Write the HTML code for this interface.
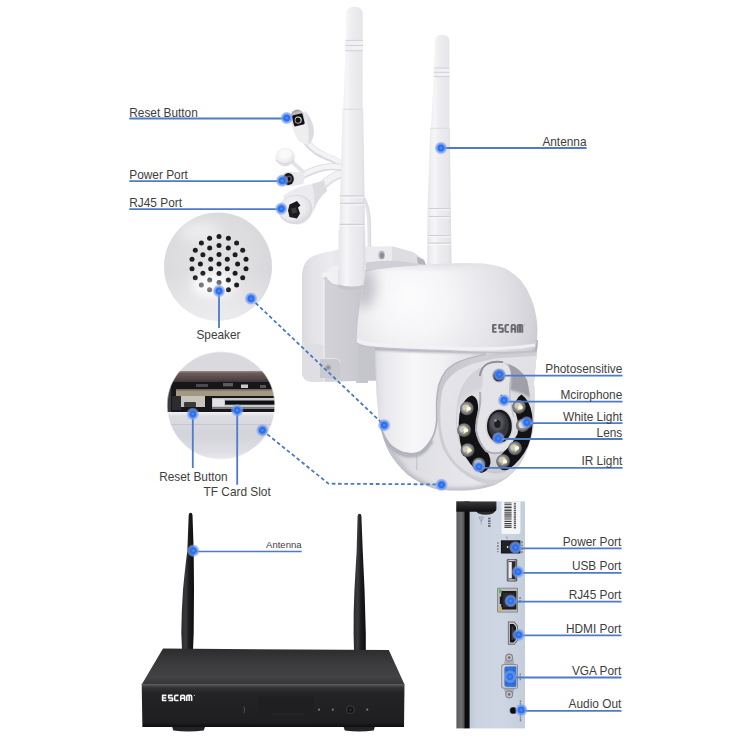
<!DOCTYPE html>
<html><head><meta charset="utf-8">
<style>
html,body{margin:0;padding:0;background:#fff;}
body{width:750px;height:750px;overflow:hidden;font-family:"Liberation Sans",sans-serif;}
svg{display:block;position:absolute;left:0;top:0;}
text{font-family:"Liberation Sans",sans-serif;fill:#3e3e3e;}
.ln{stroke:#4f7ac8;stroke-width:1.8;fill:none;}
.dash{stroke:#4c78c4;stroke-width:1.8;fill:none;stroke-dasharray:3.7 2.6;}
</style></head><body>
<svg width="750" height="750" viewBox="0 0 750 750">
<defs>
<radialGradient id="gdot" cx="50%" cy="50%" r="50%">
<stop offset="0" stop-color="#4f9dff"/><stop offset="0.25" stop-color="#2c74f4"/><stop offset="0.46" stop-color="#2d6de8"/><stop offset="0.56" stop-color="#5f8dec" stop-opacity="0.9"/><stop offset="0.82" stop-color="#7da2ee" stop-opacity="0.62"/><stop offset="1" stop-color="#9fbaf2" stop-opacity="0"/>
</radialGradient>
<g id="dot"><circle r="6.6" fill="url(#gdot)"/></g>
<filter id="b1" x="-20%" y="-20%" width="140%" height="140%"><feGaussianBlur stdDeviation="1"/></filter>
<filter id="b2" x="-20%" y="-20%" width="140%" height="140%"><feGaussianBlur stdDeviation="2"/></filter>
<filter id="b3" x="-30%" y="-30%" width="160%" height="160%"><feGaussianBlur stdDeviation="3.5"/></filter>
<filter id="b6" x="-40%" y="-40%" width="180%" height="180%"><feGaussianBlur stdDeviation="6"/></filter>
<filter id="bh" x="-20%" y="-20%" width="140%" height="140%"><feGaussianBlur stdDeviation="0.5"/></filter>
</defs>
<rect width="750" height="750" fill="#fff"/>

<!--CAMERA-->
<!--CABLES-->
<g id="cables">
<defs>
<linearGradient id="gcab" x1="0" x2="0" y1="0" y2="1"><stop offset="0" stop-color="#f4f4f6"/><stop offset="1" stop-color="#e0e0e5"/></linearGradient>
<radialGradient id="gcap" cx="0.4" cy="0.35" r="0.7"><stop offset="0" stop-color="#fbfbfc"/><stop offset="0.6" stop-color="#efeff2"/><stop offset="1" stop-color="#dcdce2"/></radialGradient>
<radialGradient id="grjf" cx="0.45" cy="0.4" r="0.65"><stop offset="0" stop-color="#f6f6f8"/><stop offset="0.7" stop-color="#e9e9ed"/><stop offset="1" stop-color="#d6d6dc"/></radialGradient>
</defs>
<!-- thin wire behind antenna going down -->
<path d="M362 196 Q369 205 369 225 L369.5 262" stroke="#e3e3e8" stroke-width="3.4" fill="none"/>
<path d="M371 262 L370.5 225 Q370 205 363.5 196" stroke="#d2d2d8" stroke-width="0.8" fill="none"/>
<!-- reset cable -->
<path d="M305 139 Q310 149 323 155 Q334 159 344 166" stroke="#d9d9df" stroke-width="7" fill="none" stroke-linecap="round"/>
<path d="M305 138.5 Q310 148 323 154 Q334 158 344 165" stroke="#f3f3f6" stroke-width="4.6" fill="none" stroke-linecap="round"/>
<!-- rj45 cable+body -->
<path d="M322 186 Q332 176 344 173" stroke="#dedee3" stroke-width="9" fill="none" stroke-linecap="round"/>
<path d="M322 185 Q332 175.5 344 172.5" stroke="#f2f2f5" stroke-width="6.4" fill="none" stroke-linecap="round"/>
<!-- power cable -->
<path d="M300 177 Q312 170 324 167.5 Q334 166 344 168" stroke="#d9d9df" stroke-width="7" fill="none" stroke-linecap="round"/>
<path d="M300 176.5 Q312 169.5 324 167 Q334 165.5 344 167.5" stroke="#f4f4f6" stroke-width="4.8" fill="none" stroke-linecap="round"/>
<!-- reset connector body -->
<path d="M290.5 121 L305 111 Q313 120 314 131 Q313.5 141 308 145 L299 141.5 Q293.5 133 290.5 121Z" fill="#eeeef1"/>
<path d="M305 111 Q313 120 314 131 Q313.5 141 308 145 Q310.5 132 305 111Z" fill="#dcdce1"/>
<defs><linearGradient id="grst" x1="0" x2="0" y1="0" y2="1"><stop offset="0" stop-color="#9c9ca0"/><stop offset="0.35" stop-color="#d6d6d9"/><stop offset="1" stop-color="#f2f2f4"/></linearGradient></defs>
<ellipse cx="298" cy="118.7" rx="7.7" ry="9.2" transform="rotate(-18 298 118.7)" fill="url(#grst)"/>
<rect x="292.8" y="114.2" width="11" height="11.4" rx="1.6" transform="rotate(-14 298.3 119.9)" fill="#141416"/>
<circle cx="298.2" cy="120" r="3.5" fill="#e8e8ea"/>
<circle cx="298" cy="120.2" r="2.6" fill="#121214"/>
<!-- dust cap -->
<path d="M291 161 Q297 166 303 172" stroke="#e4e4e8" stroke-width="4" fill="none" stroke-linecap="round"/>
<ellipse cx="285" cy="157" rx="9.8" ry="9.2" fill="url(#gcap)"/>
<ellipse cx="285.5" cy="154" rx="6.4" ry="4.6" fill="#f9f9fa"/>
<path d="M276 160 Q285 168 294 160" stroke="#dadadf" stroke-width="1.4" fill="none" filter="url(#bh)"/>
<!-- power connector -->
<path d="M290 171.5 L303 172.5 Q306 177 303 184 L291 186.5Z" fill="#e9e9ed"/>
<ellipse cx="288" cy="179" rx="6.6" ry="7.2" fill="#dcdce0"/>
<ellipse cx="288.4" cy="179" rx="5.4" ry="6" fill="#151517"/>
<ellipse cx="289" cy="179" rx="3" ry="3.4" fill="#55555a"/>
<ellipse cx="289" cy="179" rx="1.6" ry="1.9" fill="#0c0c0e"/>
<!-- rj45 connector -->
<path d="M283 196 Q296 186 312 184 L324 180.5 L327 191 Q318 198 313 212 Q308 224 297 225Z" fill="#ececf0"/>
<path d="M312 184 L324 180.5 L327 191 Q318 198 313 212 Q316 196 312 184Z" fill="#dcdce1"/>
<ellipse cx="295.5" cy="209.5" rx="17" ry="14.6" transform="rotate(-12 295.5 209.5)" fill="#d9d9de"/>
<ellipse cx="295" cy="209" rx="15.6" ry="13.2" transform="rotate(-12 295 209)" fill="url(#grjf)"/>
<path d="M289.5 204.5 L297 201 L300.5 205.5 L298 207.5 L300 213.5 L297 218.5 L289.5 217 L288 210.5Z" fill="#1a1a1c"/>
<path d="M291 208.5 L296 207.5 L297 212.5 L292 213.5Z" fill="#3a3a3e"/>
</g>

<!--CAMERA-->
<g id="camera">
<defs>
<linearGradient id="gant" x1="0" x2="1" y1="0" y2="0">
<stop offset="0" stop-color="#e4e4e9"/><stop offset="0.18" stop-color="#f0f0f3"/><stop offset="0.3" stop-color="#f6f6f8"/><stop offset="0.5" stop-color="#ededf0"/><stop offset="0.85" stop-color="#e7e7eb"/><stop offset="1" stop-color="#dadae0"/>
</linearGradient>
<linearGradient id="gplate" x1="0" x2="1" y1="0" y2="0">
<stop offset="0" stop-color="#e9e9ed"/><stop offset="0.25" stop-color="#eeeef1"/><stop offset="0.3" stop-color="#dcdce1"/><stop offset="0.7" stop-color="#d6d6dc"/><stop offset="1" stop-color="#c4c4cb"/>
</linearGradient>
<radialGradient id="gdome" gradientUnits="userSpaceOnUse" cx="425" cy="308" r="122" fx="408" fy="296">
<stop offset="0" stop-color="#fcfcfd"/><stop offset="0.3" stop-color="#f5f5f7"/><stop offset="0.52" stop-color="#eaeaee"/><stop offset="0.72" stop-color="#e0e0e5"/><stop offset="0.9" stop-color="#d3d3d9"/><stop offset="1" stop-color="#c6c6cd"/>
</radialGradient>
<linearGradient id="gball" x1="0" x2="1" y1="0" y2="0.3">
<stop offset="0" stop-color="#e6e6ea"/><stop offset="0.2" stop-color="#f4f4f7"/><stop offset="0.55" stop-color="#ececf0"/><stop offset="1" stop-color="#cfcfd6"/>
</linearGradient>
<linearGradient id="gyoke" x1="0" x2="1" y1="0" y2="0">
<stop offset="0" stop-color="#e4e4e9"/><stop offset="0.25" stop-color="#f5f5f8"/><stop offset="0.7" stop-color="#f1f1f4"/><stop offset="1" stop-color="#dcdce2"/>
</linearGradient>
<radialGradient id="gface" cx="0.45" cy="0.45" r="0.6">
<stop offset="0" stop-color="#ebebee"/><stop offset="0.7" stop-color="#dedee3"/><stop offset="1" stop-color="#cdcdd4"/>
</radialGradient>
<radialGradient id="glens" cx="0.4" cy="0.4" r="0.6">
<stop offset="0" stop-color="#6a6a70"/><stop offset="0.35" stop-color="#2c2c30"/><stop offset="0.7" stop-color="#141416"/><stop offset="1" stop-color="#050506"/>
</radialGradient>
<radialGradient id="gled" cx="0.5" cy="0.5" r="0.5">
<stop offset="0" stop-color="#fff6b0"/><stop offset="0.3" stop-color="#e8d878"/><stop offset="0.55" stop-color="#a8a8a4"/><stop offset="0.85" stop-color="#6c6c70"/><stop offset="1" stop-color="#2a2a2c"/>
</radialGradient>
<radialGradient id="gledw" cx="0.5" cy="0.5" r="0.5">
<stop offset="0" stop-color="#ffffff"/><stop offset="0.3" stop-color="#e4e4e0"/><stop offset="0.55" stop-color="#a4a4a6"/><stop offset="0.85" stop-color="#68686c"/><stop offset="1" stop-color="#2a2a2c"/>
</radialGradient>
</defs>

<!-- left antenna (behind plate bottom) -->
<g id="antL">
<path d="M346 14 Q346 6.7 354.3 6.7 Q362.7 6.7 362.7 14 L362.6 109 L363.2 109.5 L364.6 200 L365.4 284 Q352 288 338.6 284 L340 200 L342.6 109.5 L343.2 109 L345.6 50 Z" fill="url(#gant)"/>
<rect x="345.1" y="40.6" width="18.1" height="4.6" rx="1.6" fill="#f1f1f4"/><rect x="345" y="45.8" width="18.2" height="4.6" rx="1.6" fill="#f1f1f4"/><path d="M345.6 40.4H362.8M345.4 45.5H363M345.3 50.7H363" stroke="#d0d0d7" stroke-width="1" fill="none"/>
<path d="M343 109.3H363" stroke="#dcdce2" stroke-width="1" fill="none"/>
<path d="M340.2 196H364.5M340 203.5H364.7M339.6 224.5H365M339.5 231H365.1" stroke="#cfcfd6" stroke-width="1.3" fill="none"/><path d="M340.2 197.2H364.5M340 204.7H364.7M339.6 225.7H365M339.5 232.2H365.1" stroke="#fafafb" stroke-width="0.9" fill="none"/>
</g>

<!-- back plate -->
<g id="plate">
<defs>
<linearGradient id="grim" x1="0" x2="1" y1="0" y2="0"><stop offset="0" stop-color="#d9d9de"/><stop offset="0.25" stop-color="#e3e3e7"/><stop offset="0.8" stop-color="#ececf0"/><stop offset="1" stop-color="#e6e6ea"/></linearGradient>
<linearGradient id="ginner" x1="0" x2="1" y1="0" y2="0"><stop offset="0" stop-color="#d2d2d8"/><stop offset="0.5" stop-color="#cbcbd1"/><stop offset="1" stop-color="#bebec5"/></linearGradient>
</defs>
<!-- arm behind -->
<path d="M360 250 L366.4 246.4 L392 246.2 L412.8 252 L424 260 L426 265 L430 270 L430 300 L360 300 Z" fill="#ebebee"/>
<path d="M392 246.2 L412.8 252 L424 260 L426 265 L392 262Z" fill="#dddde2"/>
<path d="M416.8 256.5 L424 260 L426 265 L418 264.5Z" fill="#b4b4bb"/>
<path d="M366 262.5 Q392 258 426 265 L430 270 L430 290 L366 290 Z" fill="#cfcfd5"/>
<ellipse cx="381.6" cy="255.2" rx="3.3" ry="4.4" fill="#b9b9c0"/>
<ellipse cx="382" cy="255.6" rx="2.1" ry="3" fill="#8d8d95"/>
<!-- inner face -->
<path d="M322 270 L382 270 L382 380.5 L368 380.5 L368 383 L356 383 L356 381 L322 382 Z" fill="url(#ginner)"/>
<!-- shadow under dome on plate -->
<path d="M358 346 L380 346 L380 380.5 L358 380.5Z" fill="#c5c5cc"/>
<!-- outer rim -->
<path d="M302 372 L302 276 Q302.5 259 316 255 Q327 251.5 338.6 249.5 L338.6 266 Q325 267 324 280 L324 382 L312 382 Q302 381 302 372 Z" fill="url(#grim)"/>
<path d="M302 342 L324 345 L324 382 L312 382 Q302 381 302 372 Z" fill="#dedee3"/>
<path d="M324 280 L324 382" stroke="#f3f3f6" stroke-width="1.1"/>
<!-- bottom tab -->
<path d="M320 358.5 L336 358.5 Q340 358.5 340 362.5 L340 378 L320 378 Z" fill="#c9c9d0"/>
<path d="M320 358.5 L336 358.5 Q340 358.5 340 362.5" stroke="#e3e3e8" stroke-width="1" fill="none"/>
<circle cx="328.2" cy="367.5" r="3.1" fill="#b0b0b8"/>
<circle cx="328.2" cy="367.5" r="1.6" fill="#8c8c95"/>
</g>

<!-- left antenna base overlaps plate -->
<g>
<path d="M338.6 230 L365.2 230 L365.6 284.5 Q352 289 338.4 284.5 Z" fill="url(#gant)"/>
<path d="M338.4 284.5 Q352 289 365.6 284.5 L365.6 288 Q352 292 338.4 288Z" fill="#c4c4cb" filter="url(#bh)"/>
<path d="M326.5 271 Q330 265.5 338.4 265.5 L338.4 285.5 Q331 285 327.5 279.5 Q325.5 275 326.5 271Z" fill="#f0f0f3"/><path d="M327.5 279.5 Q331 285 338.4 285.5" stroke="#c6c6cd" stroke-width="1" fill="none" filter="url(#bh)"/>
<path d="M322 272.5 L331 272.5 L331 277 L322 277Z" fill="#f2f2f5"/>
</g>

<!-- right antenna -->
<g id="antR">
<path d="M434.7 41 Q434.7 34.7 442 34.7 Q449.3 34.7 449.3 41 L449.4 128 L449.9 128.5 L450.8 210 L451.6 266 L427 266 L427.6 210 L430.2 128.5 L430.8 128 L433.8 76 Z" fill="url(#gant)"/>
<rect x="433.6" y="68.2" width="16.2" height="3.8" rx="1.4" fill="#f1f1f4"/><rect x="433.5" y="72.6" width="16.3" height="3.8" rx="1.4" fill="#f1f1f4"/><path d="M434 68H449.4M433.9 72.3H449.5M433.8 76.6H449.5" stroke="#d0d0d7" stroke-width="1" fill="none"/>
<path d="M430.4 128.3H449.8" stroke="#dcdce2" stroke-width="1" fill="none"/>
<path d="M428.4 208.6H450.6M428.3 216.6H450.7M428 235.6H451M427.9 243.2H451.1" stroke="#cfcfd6" stroke-width="1.3" fill="none"/><path d="M428.4 209.8H450.6M428.3 217.8H450.7M428 236.8H451M427.9 244.4H451.1" stroke="#fafafb" stroke-width="0.9" fill="none"/>
</g>

<!-- lower ball -->
<g id="ball">
<defs>
<linearGradient id="gball2" x1="0" x2="1" y1="0" y2="0"><stop offset="0" stop-color="#d6d6dc"/><stop offset="0.25" stop-color="#dedee3"/><stop offset="0.6" stop-color="#e8e8ec"/><stop offset="1" stop-color="#dcdce1"/></linearGradient>
<linearGradient id="gyoke2" x1="0" x2="1" y1="0" y2="0"><stop offset="0" stop-color="#d9d9df"/><stop offset="0.1" stop-color="#e9e9ed"/><stop offset="0.35" stop-color="#f7f7f9"/><stop offset="0.6" stop-color="#f1f1f4"/><stop offset="0.85" stop-color="#e2e2e7"/><stop offset="1" stop-color="#cfcfd6"/></linearGradient>
<linearGradient id="gring" x1="0" x2="1" y1="0" y2="0.6"><stop offset="0" stop-color="#c2c2c9"/><stop offset="0.3" stop-color="#cdcdd3"/><stop offset="1" stop-color="#cfcfd6"/></linearGradient>
<linearGradient id="gring2" x1="0" x2="1" y1="0" y2="1"><stop offset="0" stop-color="#e6e6ea"/><stop offset="0.5" stop-color="#e0e0e5"/><stop offset="1" stop-color="#d4d4da"/></linearGradient>
<radialGradient id="gface2" gradientUnits="userSpaceOnUse" cx="484" cy="415" r="58"><stop offset="0" stop-color="#e3e3e7"/><stop offset="0.6" stop-color="#dcdce1"/><stop offset="1" stop-color="#c8c8cf"/></radialGradient>
<clipPath id="cball"><path d="M375 340 L538 340 L534 382 Q535.5 410 533 431 Q528 452 520 464 Q508 480 493 485.5 Q478 490.5 462 490.5 Q446 491 434 488.5 Q420 484 408 475 Q396 464 389 452 Q382 438 378.7 418 Q376 395 375.5 370 Z"/></clipPath>
<clipPath id="crin"><path d="M500 361.5 Q482 365 472 374 Q462 384 458.5 398 Q456 412 456.5 425 Q457.5 438 461 447 Q466 457 472 462.5 Q480 469.5 489 472.5 Q498 474.5 505 472 Q513 467.5 519 459.5 Q525 449 528.5 437 Q531 423 530.5 408 Q530 392 527 380 Q520 366 500 361.5 Z"/></clipPath>
</defs>
<g clip-path="url(#cball)">
<rect x="370" y="338" width="172" height="156" fill="url(#gball2)"/>
<!-- bottom edge shade -->
<path d="M389 452 Q396 464 408 475 Q420 484 434 488.5 Q446 491 462 490.5 Q478 490.5 493 485.5 Q508 480 520 464" stroke="#b4b4bd" stroke-width="5" fill="none" filter="url(#b2)"/>
<path d="M378 420 Q384 448 404 470" stroke="#c4c4cc" stroke-width="6" fill="none" filter="url(#b2)"/>
<path d="M416.8 453 L416.8 470" stroke="#bebec6" stroke-width="1"/>
<!-- yoke shadow -->
<path d="M381 430 Q384 439 389 445.5 Q394.7 451.5 404 455 Q413.3 457 420 454 Q426.5 450 432 440.5" stroke="#aeaeb7" stroke-width="3.5" fill="none" filter="url(#b1)"/>
<!-- yoke -->
<path d="M374 338 L486 338 L486 355 L478 356.4 Q468 358.5 460 361.7 Q452 365 446 371 Q441.5 377 438.9 385 Q437 394 436.7 403 Q436.8 412 436.8 420 Q436 431 432 438 Q426.5 447.5 420 451.5 Q413.3 454.5 404 452.5 Q394.7 449 389 443 Q384 437 381 428 Q378.7 418 377.5 400 L376.5 356Z" fill="url(#gyoke2)"/>
<path d="M381 428 Q384 437 389 443.5 Q394.7 449.5 404 453 Q413.3 455 420 452 Q426.5 448 432 438.5 Q436 431 436.8 420 Q436.8 412 436.7 403 Q437 394 438.9 385 Q441.5 377 446 371 Q452 365 460 361.7 Q468 358.5 478 356.4 L486 355" stroke="#b2b2bb" stroke-width="1.8" fill="none" filter="url(#bh)"/>
<!-- ring outer bevel -->
<path d="M540 349 L486 354.7 L478 356.6 Q468 358.7 460 362 Q452 365.3 446.4 371.2 Q442 377 439.5 385 Q437.6 394 437.3 403 Q437.4 412 438 424 Q438.8 437 442.3 447 Q447 458 456 467 Q466 477 479 482 Q492 486.3 504 483 Q514 478 520.5 468.7 Q528 456 532 442 Q535 425 535 410 L540 382 Z" fill="url(#gring)"/>
<!-- ring inner -->
<path d="M540 355.5 L496 358.5 Q480.5 361.7 472 364 Q464.5 367 458 370.5 Q451.7 374.5 447 380.5 Q443 386 441.6 394 Q440.4 401 440.2 412 Q440 424.7 442.3 436 Q444.6 446 449.5 454.5 Q455 463 463 469.5 Q472 475.5 482 478.5 Q493 481 503 478.5 Q512 474 518 466 Q525 453 529 440 Q532 425 532 410 L540 384 Z" fill="url(#gring2)"/>
<!-- face plate -->
<path d="M500 361.5 Q482 365 472 374 Q462 384 458.5 398 Q456 412 456.5 425 Q457.5 438 461 447 Q466 457 472 462.5 Q480 469.5 489 472.5 Q498 474.5 505 472 Q513 467.5 519 459.5 Q525 449 528.5 437 Q531 423 530.5 408 Q530 392 527 380 Q520 366 500 361.5 Z" fill="url(#gface2)"/>
<g clip-path="url(#crin)">
<path d="M450 355 L492 355 L488 372 Q486 384 483 390 Q470 388 456 408 Z" fill="#d3d3d9" filter="url(#b2)"/>
<path d="M505 355 L540 355 L540 404 Q524 392 510 390 Q513 376 505 355Z" fill="#9f9fa9" filter="url(#b1)"/>
<path d="M470 361 Q500 352 532 372" stroke="#8f8f99" stroke-width="3" fill="none" filter="url(#b1)" opacity="0.7"/>
</g>
<path d="M500 361.5 Q482 365 472 374 Q462 384 458.5 398 Q456 412 456.5 425 Q457.5 438 461 447 Q466 457 472 462.5 Q480 469.5 489 472.5" stroke="#cfcfd5" stroke-width="1" fill="none" filter="url(#bh)"/>
<!-- dome shadow on ball top -->
<path d="M372 338 L542 338 L542 351 Q480 356 372 350Z" fill="#a9a9b2" filter="url(#b1)" opacity="0.9"/>
</g>
</g>

<!-- face -->
<g id="face">
<!-- left crescent -->
<path d="M472 395.5 Q477.5 397 478 405 Q478.5 413 475.5 425.4 Q476 438 484 448 Q491 455 490.5 463 Q489 471 481 473 Q469 466 462 450 Q457 432 459.5 414 Q463 398 472 395.5Z" fill="#121214"/>
<!-- right crescent -->
<path d="M521.5 394.5 Q529.5 400 532 414 Q534 430 528 446 Q521 461 508.3 469.5 Q501 472 498.5 466 Q497.5 458 503 452.5 Q512 445 517.5 434 Q519.5 424 515.5 412 Q514 399 521.5 394.5Z" fill="#121214"/>
<!-- leds -->
<defs>
<radialGradient id="gledd" cx="0.45" cy="0.45" r="0.55"><stop offset="0" stop-color="#b4b4b4"/><stop offset="0.55" stop-color="#8e8e92"/><stop offset="0.85" stop-color="#626267"/><stop offset="1" stop-color="#2e2e32"/></radialGradient>
<g id="ledL"><circle r="7" fill="url(#gledd)"/><ellipse cx="-1.2" cy="-1" rx="3.6" ry="3.2" fill="#cfcfcd" opacity="0.8"/><path d="M-1.2 -3.8 Q7.4 0 -1.2 3.8 Q1.4 0 -1.2 -3.8Z" fill="#ffe566"/><ellipse cx="1.7" cy="0" rx="2.3" ry="1.9" fill="#fffbe0"/></g>
<g id="ledW"><circle r="6.8" fill="url(#gledd)"/><ellipse cx="-0.6" cy="-0.8" rx="3.6" ry="3.4" fill="#e6e6e6" opacity="0.9"/><ellipse cx="0.4" cy="-1.2" rx="1.8" ry="1.6" fill="#ffffff"/></g>
</defs>
<use href="#ledL" x="467" y="408.6"/>
<use href="#ledL" x="464.2" y="430.2"/>
<use href="#ledL" x="467.7" y="450.2"/>
<use href="#ledW" x="479" y="464.4"/>
<use href="#ledL" x="519" y="407" transform="rotate(15 519 407)"/>
<use href="#ledW" x="522.8" y="425.5"/>
<use href="#ledL" x="515.2" y="448.3" transform="rotate(-10 515.2 448.3)"/>
<use href="#ledL" x="503.2" y="461.2" transform="rotate(10 503.2 461.2)"/>
<!-- lens housing keyhole -->
<path d="M483 378 Q481 366 489 362.5 Q498 360 506 364 Q512 369 510.5 378 Q509 388 510 398 Q511.5 408 513.5 417 Q515 427 513 437 Q509.5 447 502 452 Q494 455 486 451 Q478 442 476 430 Q476 420 479 410 Q481 400 480 392 Q483 386 483 378Z" fill="#e3e3e8"/>
<path d="M480 392 Q481 400 479 410 Q476 420 476 430 Q478 442 486 451 Q494 455 503 452" stroke="#b0b0b8" stroke-width="2" fill="none" filter="url(#bh)"/>
<path d="M510.5 378 Q509 388 510 398 Q511.5 408 513.5 417" stroke="#c0c0c8" stroke-width="1.2" fill="none" filter="url(#bh)"/>
<!-- lens -->
<ellipse cx="499.4" cy="426.6" rx="14" ry="18" fill="#d2d2d8"/>
<ellipse cx="499.4" cy="426.3" rx="12.4" ry="16.6" fill="#18181b"/>
<ellipse cx="498.8" cy="425.4" rx="10" ry="13.4" fill="#36363d"/>
<ellipse cx="497" cy="422.5" rx="7" ry="9" fill="#55555d" filter="url(#b1)"/>
<ellipse cx="497.5" cy="424" rx="3.2" ry="4" fill="#1e1e22"/>
<circle cx="495.5" cy="420.5" r="1.2" fill="#9a9aa2"/>
<path d="M479.8 376 Q481 367.5 487 364 Q494 360.8 503 362.2" stroke="#8e8e98" stroke-width="1.8" fill="none" filter="url(#bh)"/>
<!-- photosensor -->
<circle cx="498.9" cy="375.6" r="6.8" fill="#a9a9b2"/>
<circle cx="498.9" cy="375.8" r="5.5" fill="#1c2030"/>
<!-- mic -->
<circle cx="501.4" cy="395.6" r="0.9" fill="#444"/>
</g>

<!-- dome top -->
<g id="dome">
<clipPath id="cdome"><path d="M356.7 343 Q357 324 359.5 308 Q362 290 366 271.5 Q378 268.8 393 267.5 Q404 266.5 417 265.6 Q436 263.5 457 263.3 Q472 263 483 263.5 Q496 265 505 268.3 Q514 273 521 280.5 Q527 288 531 298 Q535.5 309 537 322 Q538.5 336 535.5 348 Q534 351 530 351.2 Q500 354 440 350.5 Q400 349.5 376 347.5 Q360 346.5 356.7 343Z"/></clipPath><path d="M356.7 343 Q357 324 359.5 308 Q362 290 366 271.5 Q378 268.8 393 267.5 Q404 266.5 417 265.6 Q436 263.5 457 263.3 Q472 263 483 263.5 Q496 265 505 268.3 Q514 273 521 280.5 Q527 288 531 298 Q535.5 309 537 322 Q538.5 336 535.5 348 Q534 351 530 351.2 Q500 354 440 350.5 Q400 349.5 376 347.5 Q360 346.5 356.7 343Z" fill="url(#gdome)"/><g clip-path="url(#cdome)"><ellipse cx="364" cy="288" rx="12" ry="20" fill="#b2b2ba" opacity="0.7" filter="url(#b6)"/><ellipse cx="425" cy="258" rx="60" ry="8" fill="#c9c9d0" opacity="0.6" filter="url(#b3)"/></g>
<path d="M357.5 340 Q362 343.5 376 344.5 Q400 346.5 440 347.5 Q500 351 535 345" stroke="#f3f3f6" stroke-width="3" fill="none" filter="url(#bh)" opacity="0.9"/>
<path d="M356.7 343 Q360 346.5 376 347.5 Q400 349.5 440 350.5 Q500 354 530 351.2 Q534 351 535.5 348" stroke="#c0c0c8" stroke-width="1.3" fill="none" filter="url(#bh)"/>
<path d="M496.63 324.85H493.05V331.85H496.63M493.05 328.35H496.34M502.81 324.85H499.23V328.35H502.81V331.85H499.23M508.99 324.85H506.41Q505.41 324.85 505.41 325.85V330.85Q505.41 331.85 506.41 331.85H508.99M511.59 332.70V326.05Q511.59 324.85 512.79 324.85H513.97Q515.17 324.85 515.17 326.05V332.70M511.59 328.91H515.17M517.77 332.70V325.85Q517.77 324.85 518.77 324.85H521.25Q522.25 324.85 522.25 325.85V332.70M520.01 324.85V332.70" stroke="#6a6a70" stroke-width="1.95" fill="none" stroke-linejoin="round"/><path d="M524.6 323.6v2" stroke="#8a8a90" stroke-width="0.5"/>
</g>
</g>

<!--SPEAKER-->
<g id="speaker">
<defs>
<radialGradient id="gspk" cx="0.45" cy="0.42" r="0.6"><stop offset="0" stop-color="#e2e2e5"/><stop offset="0.6" stop-color="#dddde0"/><stop offset="0.9" stop-color="#d8d8dc"/><stop offset="1" stop-color="#d2d2d6"/></radialGradient>
<linearGradient id="gspk2" x1="0" x2="0" y1="0" y2="1"><stop offset="0" stop-color="#fff" stop-opacity="0"/><stop offset="0.55" stop-color="#fff" stop-opacity="0"/><stop offset="1" stop-color="#fff" stop-opacity="0.55"/></linearGradient>
</defs>
<circle cx="218" cy="266.5" r="54" fill="url(#gspk)"/>
<circle cx="218" cy="266.5" r="54" fill="url(#gspk2)"/>
<ellipse cx="214" cy="284" rx="22" ry="14" fill="#fff" opacity="0.75" filter="url(#b6)"/><ellipse cx="200" cy="232" rx="20" ry="10" fill="#fff" opacity="0.45" filter="url(#b6)"/><g fill="#1d1d20"><circle cx="219.0" cy="264.0" r="2.5"/><circle cx="219.0" cy="254.4" r="2.5"/><circle cx="210.7" cy="259.2" r="2.5"/><circle cx="210.7" cy="268.8" r="2.5"/><circle cx="219.0" cy="273.6" r="2.5"/><circle cx="227.3" cy="268.8" r="2.5"/><circle cx="227.3" cy="259.2" r="2.5"/><circle cx="219.0" cy="245.4" r="2.5"/><circle cx="209.7" cy="247.9" r="2.5"/><circle cx="202.9" cy="254.7" r="2.5"/><circle cx="200.4" cy="264.0" r="2.5"/><circle cx="202.9" cy="273.3" r="2.5"/><circle cx="209.7" cy="280.1" r="2.5"/><circle cx="219.0" cy="282.6" r="2.5"/><circle cx="228.3" cy="280.1" r="2.5"/><circle cx="235.1" cy="273.3" r="2.5"/><circle cx="237.6" cy="264.0" r="2.5"/><circle cx="235.1" cy="254.7" r="2.5"/><circle cx="228.3" cy="247.9" r="2.5"/><circle cx="219.0" cy="236.6" r="2.5"/><circle cx="209.6" cy="238.3" r="2.5"/><circle cx="201.4" cy="243.0" r="2.5"/><circle cx="195.3" cy="250.3" r="2.5"/><circle cx="192.0" cy="259.2" r="2.5"/><circle cx="192.0" cy="268.8" r="2.5"/><circle cx="195.3" cy="277.7" r="2.5"/><circle cx="201.4" cy="285.0" r="2.5"/><circle cx="209.6" cy="289.7" r="2.5"/><circle cx="219.0" cy="291.4" r="2.5"/><circle cx="228.4" cy="289.7" r="2.5"/><circle cx="236.6" cy="285.0" r="2.5"/><circle cx="242.7" cy="277.7" r="2.5"/><circle cx="246.0" cy="268.8" r="2.5"/><circle cx="246.0" cy="259.2" r="2.5"/><circle cx="242.7" cy="250.3" r="2.5"/><circle cx="236.6" cy="243.0" r="2.5"/><circle cx="228.4" cy="238.3" r="2.5"/></g>
<ellipse cx="210" cy="286" rx="16" ry="9" fill="#fff" opacity="0.45" filter="url(#b3)"/>
</g>

<!--TF-->
<g id="tf">
<defs>
<clipPath id="ctf"><circle cx="221" cy="405.5" r="54"/></clipPath>
<linearGradient id="gtfb" x1="0" x2="0" y1="0" y2="1"><stop offset="0" stop-color="#f4f4f7"/><stop offset="0.08" stop-color="#dcdce2"/><stop offset="0.45" stop-color="#d3d3da"/><stop offset="0.8" stop-color="#dedee4"/><stop offset="1" stop-color="#ededf1"/></linearGradient>
<linearGradient id="gtfbr" x1="0" x2="0" y1="0" y2="1"><stop offset="0" stop-color="#9a8c8a"/><stop offset="0.2" stop-color="#6a5c5b"/><stop offset="0.7" stop-color="#524646"/><stop offset="1" stop-color="#3a3232"/></linearGradient>
</defs>
<g clip-path="url(#ctf)">
<rect x="160" y="345" width="125" height="30" fill="#dadade"/>
<rect x="160" y="371" width="125" height="11.5" fill="url(#gtfbr)"/>
<rect x="160" y="382" width="125" height="30" fill="#17171a"/>
<!-- pcb tan strip -->
<rect x="176" y="389.5" width="110" height="6.5" fill="#a39883"/>
<rect x="176" y="389.5" width="110" height="1.6" fill="#8a8070"/>
<!-- smd bits top -->
<rect x="196" y="384" width="12" height="3" fill="#4a4a4e"/>
<rect x="223" y="383" width="10" height="3.4" fill="#5a5a60"/>
<rect x="241" y="384.5" width="7" height="3.5" fill="#c9c9cc"/>
<rect x="260" y="385" width="6" height="3" fill="#55555a"/>
<!-- reset button block -->
<rect x="181" y="396" width="24" height="11" fill="#c9c4bb"/>
<rect x="184" y="402" width="12" height="5" rx="1" fill="#3a3a3e"/>
<rect x="172" y="396" width="9" height="14" fill="#2c2c30"/>
<!-- tf slot -->
<rect x="212" y="398" width="72" height="9.5" fill="#c6c8cc"/>
<rect x="213" y="399.2" width="11" height="7" fill="#e0e2e6"/>
<rect x="225" y="400.5" width="60" height="4.2" fill="#0f0f12"/>
<rect x="212" y="407.5" width="72" height="1.5" fill="#808288"/>
<!-- lower body -->
<rect x="160" y="412" width="125" height="50" fill="url(#gtfb)"/>
<rect x="160" y="424" width="125" height="1" fill="#c6c6ce"/>
<!-- left dark edge -->
<rect x="160" y="378" width="11" height="34" fill="#3a3a3e"/>
</g>
<circle cx="221" cy="405.5" r="54" fill="none" stroke="#fff" stroke-width="1.5" opacity="0.6" filter="url(#bh)"/>
</g>

<!--NVR-->
<g id="nvr">
<defs>
<linearGradient id="gnant" x1="0" x2="1" y1="0" y2="0"><stop offset="0" stop-color="#2a2a2d"/><stop offset="0.35" stop-color="#3a3a3e"/><stop offset="0.6" stop-color="#1c1c1f"/><stop offset="1" stop-color="#0e0e10"/></linearGradient>
<linearGradient id="gntop" x1="0" x2="0" y1="0" y2="1"><stop offset="0" stop-color="#2c2c2e"/><stop offset="0.35" stop-color="#39393c"/><stop offset="0.8" stop-color="#434346"/><stop offset="1" stop-color="#353538"/></linearGradient>
<linearGradient id="gnfront" x1="0" x2="0" y1="0" y2="1"><stop offset="0" stop-color="#58585c"/><stop offset="0.08" stop-color="#323235"/><stop offset="0.2" stop-color="#242427"/><stop offset="0.9" stop-color="#1e1e21"/><stop offset="1" stop-color="#0e0e10"/></linearGradient>
</defs>
<!-- antennas -->
<path d="M188.7 515 Q189 512.8 190.6 512.8 Q192.3 512.8 192.5 515 L193.7 551 L194 590 L193.7 633 L193 650 L182 650 L181.3 633 Q181.6 610 183 590 Q185 568 187.3 551 Z" fill="url(#gnant)"/>
<path d="M357.6 516 Q357.9 513.8 359.5 513.8 Q361.2 513.8 361.4 516 L362.8 552 L364.6 591 L365.8 634 L365.8 651 L354 651 L353.6 634 Q353.4 611 354.4 591 Q355.6 569 356.6 552 Z" fill="url(#gnant)"/>
<!-- feet -->
<path d="M171.5 725 L205.6 725 L203.8 730.6 Q188.5 732.6 173.3 730.6Z" fill="#232325"/>
<path d="M343 725 L375.5 725 L373.7 730.6 Q359 732.6 344.8 730.6Z" fill="#232325"/>
<!-- top surface -->
<path d="M163 648.6 L388.8 650 L404.5 684.6 L141.7 684.6 Z" fill="url(#gntop)"/>
<!-- front -->
<path d="M141.7 684.3 L404.5 684.3 L404 727 L142.4 727 Z" fill="url(#gnfront)"/>
<path d="M141.7 684.6 L404.5 684.6" stroke="#5a5a5e" stroke-width="0.9"/>
<!-- display window -->
<rect x="258" y="696.6" width="56" height="26" rx="3" fill="#1f1f22"/>
<rect x="272" y="713.5" width="32" height="1" fill="#2c2c31"/>
<!-- logo -->
<path d="M166.47 695.38H162.58V700.42H166.47M162.58 697.90H166.16M172.52 695.38H168.62V697.90H172.52V700.42H168.62M178.56 695.38H175.67Q174.67 695.38 174.67 696.38V699.42Q174.67 700.42 175.67 700.42H178.56M180.71 701.10V696.58Q180.71 695.38 181.91 695.38H183.41Q184.61 695.38 184.61 696.58V701.10M180.71 698.30H184.61M186.76 701.10V696.38Q186.76 695.38 187.76 695.38H190.62Q191.62 695.38 191.62 696.38V701.10M189.19 695.38V701.10" stroke="#f6f6f6" stroke-width="1.55" fill="none" stroke-linejoin="round"/>
<circle cx="194.4" cy="695.3" r="0.6" fill="#ddd"/>
<!-- front marks -->
<path d="M243.8 706.5 Q245.6 709.7 243.6 713" stroke="#55555a" stroke-width="0.9" fill="none"/>
<circle cx="319" cy="709.7" r="1.1" fill="#77777c"/>
<circle cx="332.8" cy="709.7" r="1.1" fill="#77777c"/>
<circle cx="367.2" cy="709.7" r="1.1" fill="#77777c"/>
<circle cx="350.4" cy="709.7" r="4.4" fill="#3a3a3e"/>
<circle cx="350.4" cy="709.7" r="3.2" fill="#121214"/>
<circle cx="350.4" cy="709.7" r="1.5" fill="#2c2c30"/>
</g>

<!--REAR-->
<g id="rear">
<defs>
<linearGradient id="gpanel" x1="0" x2="1" y1="0" y2="0"><stop offset="0" stop-color="#bfc9d6"/><stop offset="0.15" stop-color="#cbd4e0"/><stop offset="0.6" stop-color="#cdd6e2"/><stop offset="1" stop-color="#c4cedb"/></linearGradient>
<linearGradient id="gstrip" x1="0" x2="1" y1="0" y2="0"><stop offset="0" stop-color="#5a5a5c"/><stop offset="0.6" stop-color="#6e6e70"/><stop offset="1" stop-color="#4a4a4c"/></linearGradient>
<linearGradient id="gbar" x1="0" x2="0" y1="0" y2="1"><stop offset="0" stop-color="#3a3a3d"/><stop offset="0.5" stop-color="#222225"/><stop offset="1" stop-color="#0e0e10"/></linearGradient>
<linearGradient id="gsil" x1="0" x2="1" y1="0" y2="0"><stop offset="0" stop-color="#8e8e93"/><stop offset="0.3" stop-color="#d6d6da"/><stop offset="0.7" stop-color="#c2c2c7"/><stop offset="1" stop-color="#77777c"/></linearGradient>
</defs>
<rect x="469" y="501.4" width="56" height="227" fill="url(#gpanel)"/>
<rect x="456.4" y="501.4" width="8.4" height="227" fill="url(#gstrip)"/>
<rect x="464.4" y="501.4" width="5.2" height="227" fill="#0b0b0d"/>
<!-- top bar -->
<path d="M476.4 511 L494.8 511 Q494 514.8 485.6 514.8 Q477.2 514.8 476.4 511Z" fill="#2a2a2e"/>
<path d="M456.4 501.4 L496.4 501.4 L496.4 509 Q496.4 511.8 493.5 511.8 L456.4 511.8Z" fill="url(#gbar)"/>
<!-- antenna icon + MAIN -->
<path d="M478.6 517 L483.8 517 L481.2 521.4Z M481.2 517 L481.2 524.8" stroke="#8b93a0" stroke-width="0.6" fill="none"/>
<g fill="#6c7480"><rect x="488" y="517.6" width="2.6" height="1.8"/><rect x="488" y="520.2" width="2.6" height="1.8"/><rect x="488" y="522.8" width="2.6" height="1.2"/><rect x="488" y="524.8" width="2.6" height="2.2"/></g>
<!-- sticker -->
<path d="M501.5 501.4 L520.4 501.4 L520.4 532 Q520.4 533.9 518.5 533.9 L503.4 533.9 Q501.5 533.9 501.5 532Z" fill="#f4f5f7"/>
<rect x="504.4" y="502.6" width="7.2" height="0.7" fill="#3a3a3e"/><rect x="504.4" y="503.9" width="7.2" height="0.9" fill="#3a3a3e"/><rect x="504.4" y="505.8" width="7.2" height="0.5" fill="#3a3a3e"/><rect x="504.4" y="506.8" width="7.2" height="1.2" fill="#3a3a3e"/><rect x="504.4" y="508.8" width="7.2" height="0.7" fill="#3a3a3e"/><rect x="504.4" y="510.1" width="7.2" height="1.2" fill="#3a3a3e"/><rect x="504.4" y="512.3" width="7.2" height="1.2" fill="#3a3a3e"/><rect x="504.4" y="514.1" width="7.2" height="0.7" fill="#3a3a3e"/><rect x="504.4" y="515.4" width="7.2" height="1.2" fill="#3a3a3e"/><rect x="504.4" y="517.1" width="7.2" height="0.5" fill="#3a3a3e"/><rect x="504.4" y="518.2" width="7.2" height="0.5" fill="#3a3a3e"/><rect x="504.4" y="519.5" width="7.2" height="0.5" fill="#3a3a3e"/><rect x="504.4" y="520.8" width="7.2" height="1.2" fill="#3a3a3e"/><rect x="504.4" y="523.0" width="7.2" height="1.2" fill="#3a3a3e"/><rect x="504.4" y="525.2" width="7.2" height="1.2" fill="#3a3a3e"/><rect x="504.4" y="527.0" width="7.2" height="0.9" fill="#3a3a3e"/><rect x="513.8" y="502.8" width="2.2" height="1.0" fill="#55555a"/><rect x="513.8" y="504.5" width="2.2" height="1.0" fill="#55555a"/><rect x="513.8" y="506.2" width="2.2" height="1.3" fill="#55555a"/><rect x="513.8" y="508.2" width="2.2" height="1.0" fill="#55555a"/><rect x="513.8" y="509.9" width="2.2" height="1.3" fill="#55555a"/><rect x="513.8" y="511.9" width="2.2" height="1.6" fill="#55555a"/><rect x="513.8" y="514.2" width="2.2" height="1.3" fill="#55555a"/><rect x="513.8" y="516.2" width="2.2" height="1.6" fill="#55555a"/><rect x="513.8" y="518.5" width="2.2" height="1.3" fill="#55555a"/><rect x="513.8" y="520.5" width="2.2" height="1.3" fill="#55555a"/><rect x="513.8" y="522.5" width="2.2" height="1.6" fill="#55555a"/><rect x="513.8" y="524.8" width="2.2" height="1.3" fill="#55555a"/><rect x="513.8" y="526.8" width="2.2" height="1.6" fill="#55555a"/>
<!-- power port -->
<rect x="500.9" y="540.3" width="19.5" height="13.2" fill="#17171a"/>
<rect x="502" y="541.4" width="17.3" height="11" fill="#222226"/>
<circle cx="507.6" cy="547" r="0.9" fill="#e8e8ea"/>
<g fill="#7c8490"><rect x="497" y="542.2" width="1.6" height="1.6"/><rect x="497" y="545" width="1.6" height="2"/><rect x="497" y="548.2" width="1.6" height="1.6"/><rect x="497" y="551" width="1.6" height="1.2"/></g>
<g fill="#7c8490"><rect x="521.2" y="541" width="1.5" height="2.4"/><rect x="521.2" y="544.4" width="1.5" height="2"/><rect x="521.2" y="547.6" width="1.5" height="2.4"/><rect x="521.2" y="551" width="1.5" height="2"/></g>
<circle cx="507" cy="537.6" r="1" fill="none" stroke="#8b93a0" stroke-width="0.5"/>
<!-- usb -->
<rect x="506.8" y="559" width="10.4" height="22.4" rx="1.2" fill="#55555a"/>
<rect x="507.6" y="559.8" width="8.8" height="20.8" rx="0.8" fill="url(#gsil)"/>
<rect x="508.6" y="561.2" width="6.8" height="18" fill="#2a2a2e"/>
<rect x="508.6" y="562" width="3.2" height="16.4" fill="#ececee"/>
<!-- rj45 -->
<rect x="497.2" y="587.8" width="20.8" height="24.8" rx="1" fill="#7a7a80"/>
<rect x="498" y="588.6" width="19.2" height="23.2" rx="0.8" fill="#b9b9be"/>
<path d="M501.2 591 L516.4 591 L516.4 609.4 L501.2 609.4 L501.2 604 L499.8 604 L499.8 596.4 L501.2 596.4Z" fill="#1b1b1e"/>
<rect x="503" y="593" width="11.6" height="14.4" fill="#2c2c31"/>
<rect x="499" y="589.6" width="2.6" height="3.4" fill="#58b84a"/>
<rect x="499.4" y="607.2" width="2.6" height="3.4" fill="#d8b23a"/>
<g fill="#7c8490"><rect x="519.4" y="597" width="1.4" height="2"/><rect x="519.4" y="600" width="1.4" height="2.4"/></g>
<!-- hdmi -->
<path d="M507.9 621.6 L514.5 621.6 L518 626 L518 640.4 L514.5 644.8 L507.9 644.8Z" fill="#6a6a70"/>
<path d="M508.8 622.6 L514.1 622.6 L517.1 626.4 L517.1 640 L514.1 643.8 L508.8 643.8Z" fill="#c9c9ce"/>
<path d="M509.9 624 L513.6 624 L516 627 L516 639.4 L513.6 642.4 L509.9 642.4Z" fill="#151518"/>
<rect x="511.6" y="626.6" width="1.8" height="13.2" fill="#3e3e44"/>
<!-- vga -->
<path d="M505.4 657 Q505.4 653.6 509.2 653.6 Q513 653.6 513 657 L514.4 664.5 L514.4 688.5 L513 695 Q513 698.4 509.2 698.4 Q505.4 698.4 505.4 695 L504 688.5 L504 664.5Z" fill="#a9a9af"/>
<circle cx="509.2" cy="657.6" r="3.8" fill="#7e7e84"/><circle cx="509.2" cy="657.6" r="2.9" fill="#c4c4c9"/><circle cx="509.2" cy="657.6" r="1.4" fill="#6e6e74"/>
<circle cx="509.2" cy="694.4" r="3.8" fill="#7e7e84"/><circle cx="509.2" cy="694.4" r="2.9" fill="#c4c4c9"/><circle cx="509.2" cy="694.4" r="1.4" fill="#6e6e74"/>
<path d="M503.6 664 L516 664 Q518 664 518 666 L518 686.8 Q518 688.8 516 688.8 L503.6 688.8 Q501.2 688.8 501.2 686 L501.2 666.8 Q501.2 664 503.6 664Z" fill="#8e8e94"/>
<path d="M504 665 L515.8 665 Q517 665 517 666.4 L517 686.4 Q517 687.8 515.8 687.8 L504 687.8 Q502.2 687.8 502.2 685.6 L502.2 667.2 Q502.2 665 504 665Z" fill="#d0d0d5"/>
<path d="M506 666.6 L515 666.2 Q516.4 666.2 516.4 667.6 L516.4 685.6 Q516.4 687 515 687 L506 686.8 Q504.4 686.6 504.4 684.8 L504.4 668.4 Q504.4 666.8 506 666.6Z" fill="#2f72da"/>
<g fill="#1c4fae"><circle cx="507" cy="670" r="0.6"/><circle cx="507" cy="673.4" r="0.6"/><circle cx="507" cy="676.8" r="0.6"/><circle cx="507" cy="680.2" r="0.6"/><circle cx="507" cy="683.6" r="0.6"/><circle cx="510.4" cy="671.6" r="0.6"/><circle cx="510.4" cy="675" r="0.6"/><circle cx="510.4" cy="678.4" r="0.6"/><circle cx="510.4" cy="681.8" r="0.6"/><circle cx="513.8" cy="670" r="0.6"/><circle cx="513.8" cy="673.4" r="0.6"/><circle cx="513.8" cy="676.8" r="0.6"/><circle cx="513.8" cy="680.2" r="0.6"/><circle cx="513.8" cy="683.6" r="0.6"/></g>
<g fill="#7c8490"><rect x="519.6" y="673.6" width="1.4" height="1.6"/><rect x="519.6" y="676" width="1.4" height="1.8"/><rect x="519.6" y="678.6" width="1.4" height="1.6"/></g>
<!-- audio -->
<circle cx="513.2" cy="710.4" r="3.5" fill="#3a3a40"/>
<circle cx="513.2" cy="710.4" r="2.7" fill="#0c0c0e"/>
<g fill="#7c8490"><rect x="519.8" y="700.4" width="1.4" height="2"/><rect x="519.8" y="703" width="1.4" height="1.8"/><rect x="519.8" y="705.4" width="1.4" height="1.2"/><rect x="519.8" y="714" width="1.4" height="2"/><rect x="519.8" y="716.6" width="1.4" height="1.8"/><rect x="519.8" y="719" width="1.4" height="2.4"/></g>
</g>


<!--LINES-->
<g id="lines">
<path class="ln" d="M129.3 118.5H287"/>
<path class="ln" d="M129.3 181.2H282"/>
<path class="ln" d="M129.3 209.2H281"/>
<path class="ln" d="M441 148H586.5"/>
<path class="ln" d="M499.5 375.6H622.5"/>
<path class="ln" d="M504 401.7H622.5"/>
<path class="ln" d="M526.7 423.2H622.5"/>
<path class="ln" d="M498.3 439H622.5"/>
<path class="ln" d="M479 467.9H622.5"/>
<path class="ln" d="M515.5 548.3H621.5"/>
<path class="ln" d="M518 572.9H621.5"/>
<path class="ln" d="M510.7 601.7H621.5"/>
<path class="ln" d="M518.7 635.3H621.5"/>
<path class="ln" d="M510.7 677.5H621.5"/>
<path class="ln" d="M521.3 710.8H621.5"/>
<path class="ln" d="M193.3 551.5H301.7" style="stroke-width:1.5"/>
<path class="ln" d="M219 291V328"/>
<path class="ln" d="M192.8 414V468"/>
<path class="ln" d="M237.2 410.4V484.8"/>
<path class="dash" d="M251 298.6L384.2 425.2"/>
<path class="dash" d="M262.4 430.3L328.5 483.7L441.5 484.4"/>
</g>
<!--DOTS-->
<g id="dots">
<use href="#dot" x="286.7" y="118"/>
<use href="#dot" x="282.1" y="180.7"/>
<use href="#dot" x="281.3" y="208.7"/>
<use href="#dot" x="441" y="148"/>
<use href="#dot" x="499.5" y="374.5"/>
<use href="#dot" x="504" y="400.3"/>
<use href="#dot" x="526.7" y="422.5"/>
<use href="#dot" x="498.3" y="438.4"/>
<use href="#dot" x="479" y="466.7"/>
<use href="#dot" x="515.5" y="547.5"/>
<use href="#dot" x="518" y="571.8"/>
<use href="#dot" x="510.7" y="600.9"/>
<use href="#dot" x="518.7" y="634.8"/>
<use href="#dot" x="510" y="676.7"/>
<use href="#dot" x="521.3" y="710"/>
<use href="#dot" x="193.3" y="550.7"/>
<use href="#dot" x="219" y="291"/>
<use href="#dot" x="251" y="298.6"/>
<use href="#dot" x="192.8" y="414"/>
<use href="#dot" x="237.2" y="410.4"/>
<use href="#dot" x="262.4" y="430.3"/>
<use href="#dot" x="384.2" y="425.2"/>
<use href="#dot" x="441.5" y="484.8"/>
</g>
<!--TEXT-->
<g id="labels" font-size="11.85">
<text x="129.3" y="116.7">Reset Button</text>
<text x="129.3" y="178.8">Power Port</text>
<text x="129.3" y="206.8">RJ45 Port</text>
<text x="586.5" y="146" text-anchor="end">Antenna</text>
<text x="622.3" y="372.7" text-anchor="end">Photosensitive</text>
<text x="622.3" y="398.7" text-anchor="end">Mcirophone</text>
<text x="622.3" y="420.7" text-anchor="end">White Light</text>
<text x="622.3" y="436.8" text-anchor="end">Lens</text>
<text x="622.3" y="465.1" text-anchor="end">IR Light</text>
<text x="621.3" y="545.7" text-anchor="end">Power Port</text>
<text x="621.3" y="569.7" text-anchor="end">USB Port</text>
<text x="621.3" y="598.5" text-anchor="end">RJ45 Port</text>
<text x="621.3" y="632.7" text-anchor="end">HDMI Port</text>
<text x="621.3" y="675.3" text-anchor="end">VGA Port</text>
<text x="621.3" y="708.1" text-anchor="end">Audio Out</text>
<text x="218.5" y="338.6" text-anchor="middle">Speaker</text>
<text x="159.2" y="480.7">Reset Button</text>
<text x="203.6" y="495.6">TF Card Slot</text>
<text x="301.5" y="548.3" text-anchor="end" font-size="9.5">Antenna</text>
</g>
</svg>
</body></html>
